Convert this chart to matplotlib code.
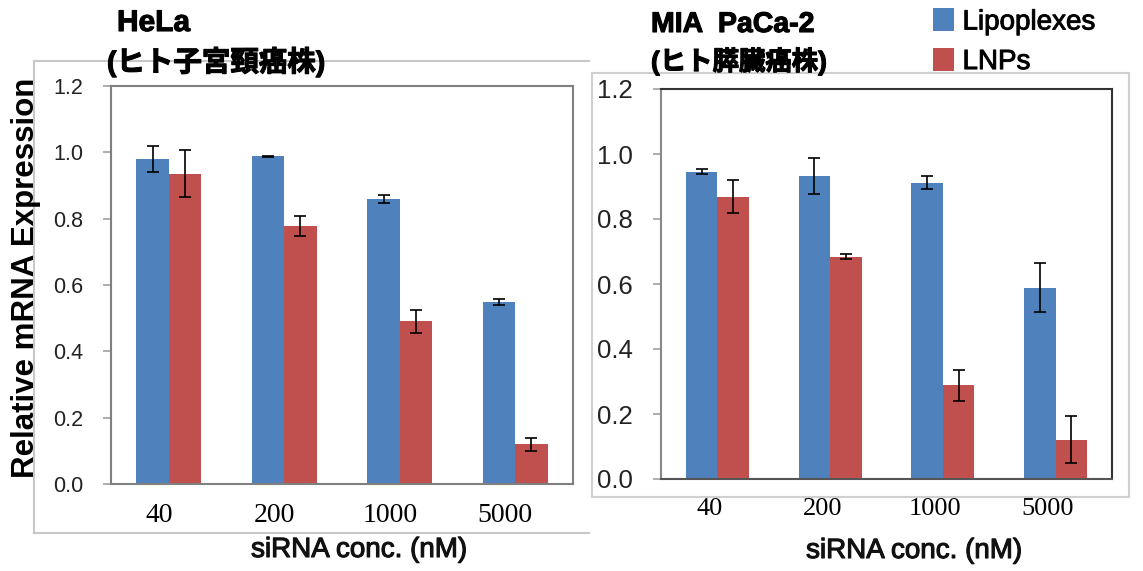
import matplotlib
matplotlib.use("Agg")
import matplotlib.pyplot as plt
import matplotlib.patheffects as pe
from matplotlib.lines import Line2D
from matplotlib.patches import Rectangle, Patch
from matplotlib.transforms import ScaledTranslation
import numpy as np

plt.rcParams['font.family'] = ['Liberation Sans', 'Noto Sans CJK JP', 'DejaVu Sans']

# ---------------- data ----------------
concentrations = ["40", "200", "1000", "5000"]
series_names = ["Lipoplexes", "LNPs"]

hela_lipo = [0.98, 0.988, 0.859, 0.549]
hela_lipo_err = [0.038, 0.002, 0.013, 0.008]
hela_lnp = [0.936, 0.779, 0.490, 0.120]
hela_lnp_err = [0.072, 0.030, 0.034, 0.020]

mia_lipo = [0.945, 0.932, 0.912, 0.589]
mia_lipo_err = [0.008, 0.055, 0.020, 0.075]
mia_lnp = [0.869, 0.684, 0.288, 0.121]
mia_lnp_err = [0.050, 0.007, 0.048, 0.073]

yticks = [0.0, 0.2, 0.4, 0.6, 0.8, 1.0, 1.2]

title_hela = "HeLa"
sub_hela = "(ヒト子宮頸癌株)"
title_mia = "MIA  PaCa-2"
sub_mia = "(ヒト膵臓癌株)"
ylabel = "Relative mRNA Expression"
xlabel = "siRNA conc. (nM)"

BLUE = "#4F81BD"
RED = "#C0504D"

W, H = 1143, 571
fig = plt.figure(figsize=(W / 100, H / 100), dpi=100)
fig.patch.set_facecolor("white")


def fx(px):
    return px / W


def fy(py):
    return 1 - py / H


def heavy(lw=0.6, c="black"):
    return [pe.withStroke(linewidth=lw, foreground=c)]


# outer frames
grey = "#c8c8c8"
fig.add_artist(Line2D([fx(34), fx(34)], [fy(61), fy(533)], color=grey, lw=1.5, transform=fig.transFigure))
fig.add_artist(Line2D([fx(34), fx(589)], [fy(61), fy(61)], color=grey, lw=1.5, transform=fig.transFigure))
fig.add_artist(Line2D([fx(34), fx(589)], [fy(533), fy(533)], color=grey, lw=1.5, transform=fig.transFigure))
fig.add_artist(Rectangle((fx(592), fy(497)), fx(1129) - fx(592), fy(73) - fy(497),
                         fill=False, edgecolor="#d0d0d0", lw=1.5, transform=fig.transFigure))


def panel(rect, lipo, lipo_err, lnp, lnp_err, ytick_fs, xtick_fs, spine_cols, xoff_px):
    ax = fig.add_axes(rect)
    x = np.arange(len(concentrations))
    w = 0.28
    ax.bar(x - w / 2, lipo, width=w, color=BLUE, zorder=2)
    ax.bar(x + w / 2, lnp, width=w, color=RED, zorder=2)
    ax.errorbar(x - w / 2, lipo, yerr=lipo_err, fmt="none", ecolor="black",
                elinewidth=1.2, capsize=4.5, capthick=1.2, zorder=3)
    ax.errorbar(x + w / 2, lnp, yerr=lnp_err, fmt="none", ecolor="black",
                elinewidth=1.2, capsize=4.5, capthick=1.2, zorder=3)
    ax.set_xlim(-0.5, len(concentrations) - 0.5)
    ax.set_ylim(0, 1.2)
    ax.set_yticks(yticks)
    ax.set_yticklabels([f"{v:.1f}" for v in yticks], fontsize=ytick_fs, color="#222222")
    ax.tick_params(axis="y", direction="out", length=6, width=1.2, color="#a0a0a0", pad=14)
    ax.set_xticks(x)
    ax.set_xticklabels(concentrations, fontsize=xtick_fs, family="Liberation Serif")
    ax.tick_params(axis="x", length=0, pad=14)
    off = ScaledTranslation(-xoff_px / 100, 0, fig.dpi_scale_trans)
    for lab in ax.get_xticklabels():
        lab.set_transform(lab.get_transform() + off)
    for side, col in spine_cols.items():
        ax.spines[side].set_color(col)
        ax.spines[side].set_linewidth(1.5)
    return ax


ax1 = panel([fx(111), fy(484), fx(573) - fx(111), fy(86) - fy(484)],
            hela_lipo, hela_lipo_err, hela_lnp, hela_lnp_err, 15.5, 20,
            {"left": "#808080", "bottom": "#808080", "top": "#808080", "right": "#808080"}, 10)
ax2 = panel([fx(661), fy(479), fx(1112) - fx(661), fy(89) - fy(479)],
            mia_lipo, mia_lipo_err, mia_lnp, mia_lnp_err, 18.5, 19,
            {"left": "#888888", "bottom": "#555555", "top": "#333333", "right": "#333333"}, 8)

# titles
fig.text(fx(117), fy(23), title_hela, fontsize=21.5, fontweight="bold", ha="left", va="center",
         path_effects=heavy(0.8))
fig.text(fx(107), fy(62), sub_hela, fontsize=20.5, fontweight="bold", ha="left", va="center",
         path_effects=heavy(0.8))
fig.text(fx(651), fy(25), title_mia, fontsize=20.5, fontweight="bold", ha="left", va="center",
         path_effects=heavy(0.8))
fig.text(fx(651), fy(61), sub_mia, fontsize=19, fontweight="bold", ha="left", va="center",
         path_effects=heavy(0.8))

# axis labels
fig.text(fx(26), fy(278), ylabel, fontsize=22.5, fontweight="bold", rotation=90,
         ha="center", va="center")
fig.text(fx(359), fy(550), xlabel, fontsize=20, ha="center", va="center",
         path_effects=heavy(0.8, "#111111"), color="#111111")
fig.text(fx(914), fy(551), xlabel, fontsize=20, ha="center", va="center",
         path_effects=heavy(0.8, "#111111"), color="#111111")

# legend
handles = [Patch(facecolor=BLUE, edgecolor="none"), Patch(facecolor=RED, edgecolor="none")]
leg = fig.legend(handles, series_names, loc="upper left",
                 bbox_to_anchor=(fx(925), fy(0)), frameon=False, fontsize=20,
                 handlelength=0.75, handleheight=0.9, handletextpad=0.3,
                 labelspacing=0.45, borderpad=0.3, borderaxespad=0)
for t in leg.get_texts():
    t.set_path_effects(heavy(0.7, "#111111"))

fig.savefig("out.png", dpi=100)
